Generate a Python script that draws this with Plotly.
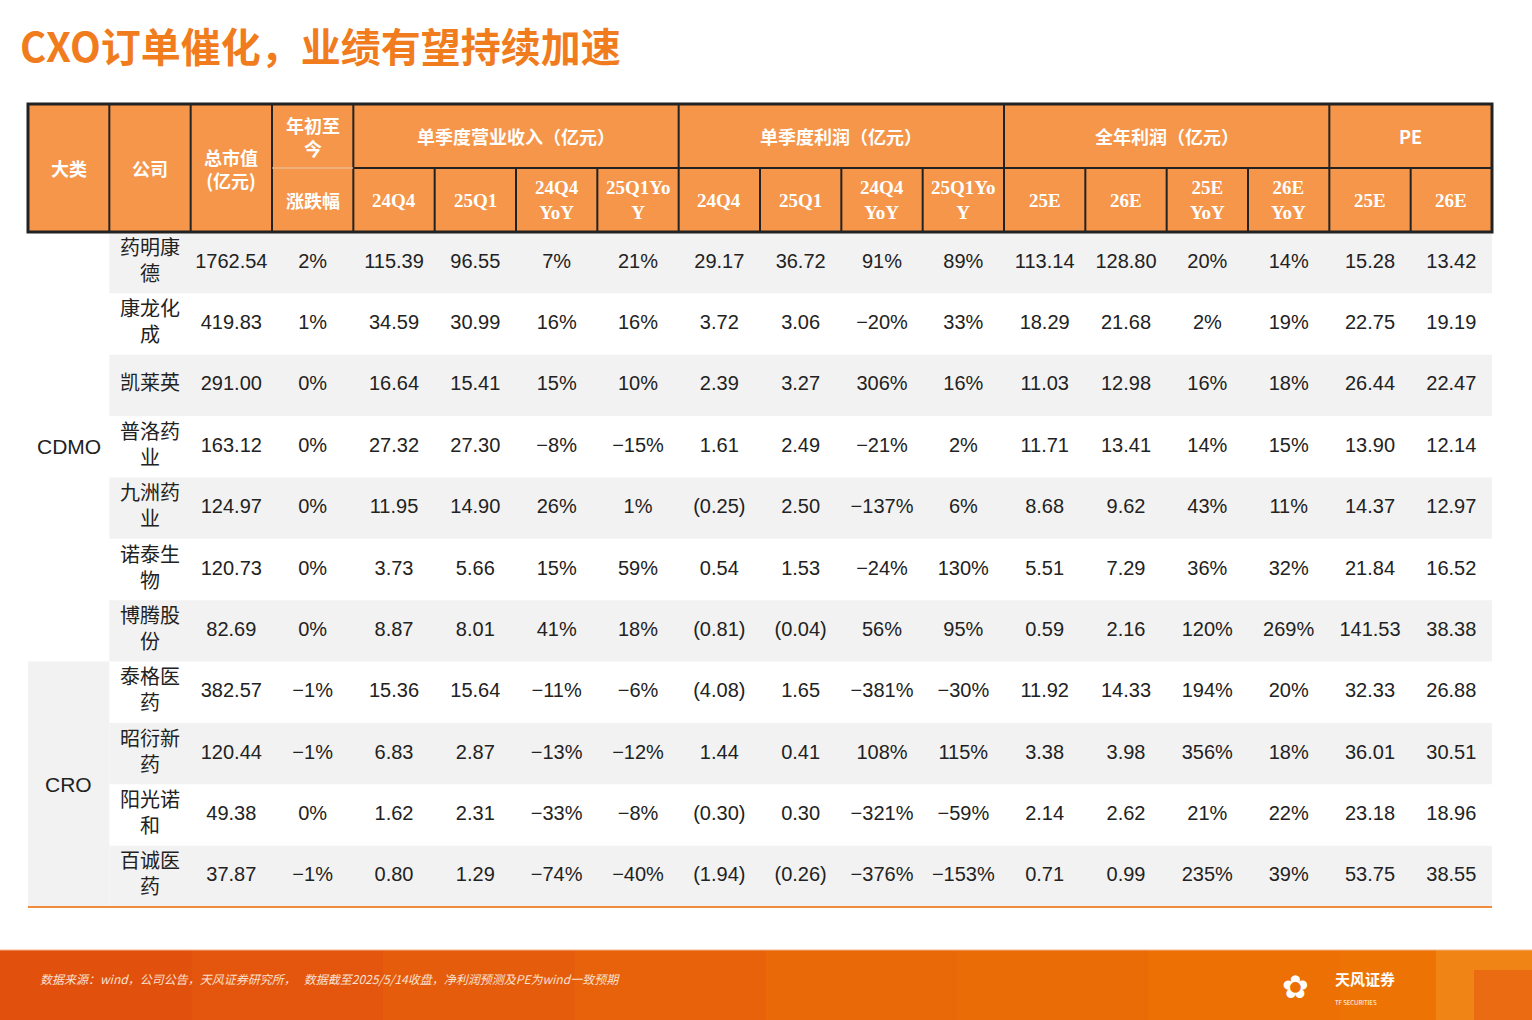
import plotly.graph_objects as go

# -- Datos ---------------------------------------------------------------------
categorias = ["CDMO", "CRO"]
n_por_categoria = [7, 4]
empresas = ["药明康<br>德", "康龙化<br>成", "凯莱英", "普洛药<br>业", "九洲药<br>业", "诺泰生<br>物",
            "博腾股<br>份", "泰格医<br>药", "昭衍新<br>药", "阳光诺<br>和", "百诚医<br>药"]
市值 = ["1762.54", "419.83", "291.00", "163.12", "124.97", "120.73", "82.69", "382.57", "120.44", "49.38", "37.87"]
涨跌幅 = ["2%", "1%", "0%", "0%", "0%", "0%", "0%", "−1%", "−1%", "0%", "−1%"]
营收_24q4 = ["115.39", "34.59", "16.64", "27.32", "11.95", "3.73", "8.87", "15.36", "6.83", "1.62", "0.80"]
营收_25q1 = ["96.55", "30.99", "15.41", "27.30", "14.90", "5.66", "8.01", "15.64", "2.87", "2.31", "1.29"]
营收_24q4_yoy = ["7%", "16%", "15%", "−8%", "26%", "15%", "41%", "−11%", "−13%", "−33%", "−74%"]
营收_25q1_yoy = ["21%", "16%", "10%", "−15%", "1%", "59%", "18%", "−6%", "−12%", "−8%", "−40%"]
利润_24q4 = ["29.17", "3.72", "2.39", "1.61", "(0.25)", "0.54", "(0.81)", "(4.08)", "1.44", "(0.30)", "(1.94)"]
利润_25q1 = ["36.72", "3.06", "3.27", "2.49", "2.50", "1.53", "(0.04)", "1.65", "0.41", "0.30", "(0.26)"]
利润_24q4_yoy = ["91%", "−20%", "306%", "−21%", "−137%", "−24%", "56%", "−381%", "108%", "−321%", "−376%"]
利润_25q1_yoy = ["89%", "33%", "16%", "2%", "6%", "130%", "95%", "−30%", "115%", "−59%", "−153%"]
利润_25e = ["113.14", "18.29", "11.03", "11.71", "8.68", "5.51", "0.59", "11.92", "3.38", "2.14", "0.71"]
利润_26e = ["128.80", "21.68", "12.98", "13.41", "9.62", "7.29", "2.16", "14.33", "3.98", "2.62", "0.99"]
利润_25e_yoy = ["20%", "2%", "16%", "14%", "43%", "36%", "120%", "194%", "356%", "21%", "235%"]
利润_26e_yoy = ["14%", "19%", "18%", "15%", "11%", "32%", "269%", "20%", "18%", "22%", "39%"]
pe_25e = ["15.28", "22.75", "26.44", "13.90", "14.37", "21.84", "141.53", "32.33", "36.01", "23.18", "53.75"]
pe_26e = ["13.42", "19.19", "22.47", "12.14", "12.97", "16.52", "38.38", "26.88", "30.51", "18.96", "38.55"]

grupos = ["单季度营业收入（亿元）", "单季度利润（亿元）", "全年利润（亿元）", "PE"]
subcols = ["24Q4", "25Q1", "24Q4<br>YoY", "25Q1Yo<br>Y", "24Q4", "25Q1", "24Q4<br>YoY", "25Q1Yo<br>Y",
           "25E", "26E", "25E<br>YoY", "26E<br>YoY", "25E", "26E"]

columnas = [empresas, 市值, 涨跌幅, 营收_24q4, 营收_25q1, 营收_24q4_yoy, 营收_25q1_yoy,
            利润_24q4, 利润_25q1, 利润_24q4_yoy, 利润_25q1_yoy, 利润_25e, 利润_26e,
            利润_25e_yoy, 利润_26e_yoy, pe_25e, pe_26e]

# -- Geometria -----------------------------------------------------------------
N_COL = 18
N_FIL = len(empresas)
UX = (1492 - 28) / N_COL
UY = (907 - 232) / N_FIL
H_TOP = -(232 - 104) / UY
H_MID = -(232 - 168) / UY
NARANJA = "#F5964A"
GRIS = "#F2F2F2"
CJK = "Noto Sans CJK SC"
PIE = 70 / 1020

fig = go.Figure()
shapes = []

# franjas grises
for j in range(N_FIL):
    if j % 2 == 0:
        shapes.append(dict(type="rect", x0=1, x1=N_COL, y0=j, y1=j + 1, fillcolor=GRIS, line_width=0, layer="below"))
shapes.append(dict(type="rect", x0=0, x1=1, y0=7, y1=N_FIL, fillcolor=GRIS, line_width=0, layer="below"))

# cabecera
shapes.append(dict(type="rect", x0=0, x1=N_COL, y0=H_TOP, y1=0, fillcolor=NARANJA, line_width=0))
for i in range(1, N_COL):
    full = i <= 4 or i in (8, 12, 16)
    shapes.append(dict(type="line", x0=i, x1=i, y0=H_TOP if full else H_MID, y1=0,
                       line=dict(color="#222", width=2)))
shapes.append(dict(type="line", x0=4, x1=N_COL, y0=H_MID, y1=H_MID, line=dict(color="#222", width=2)))
shapes.append(dict(type="line", x0=3, x1=4, y0=H_MID, y1=H_MID, line=dict(color="#E8C9A8", width=1)))
shapes.append(dict(type="rect", x0=0, x1=N_COL, y0=H_TOP, y1=0, line=dict(color="#222", width=3)))
shapes.append(dict(type="line", x0=0, x1=N_COL, y0=N_FIL, y1=N_FIL, line=dict(color="#F08A3C", width=2)))

# pie con degradado aproximado
tonos = ["#E2500E", "#E4560D", "#E55C0C", "#E7620A", "#E96808", "#EA6C06", "#EC7004", "#ED7404"]
paso = 1 / len(tonos)
for k, c in enumerate(tonos):
    shapes.append(dict(type="rect", xref="paper", yref="paper", x0=k * paso, x1=(k + 1) * paso + 0.001,
                       y0=0, y1=PIE, fillcolor=c, line_width=0))
shapes.append(dict(type="rect", xref="paper", yref="paper", x0=1436 / 1532, x1=1, y0=0, y1=PIE,
                   fillcolor="#F08A1C", line_width=0, opacity=0.8))
shapes.append(dict(type="rect", xref="paper", yref="paper", x0=1474 / 1532, x1=1, y0=0, y1=50 / 1020,
                   fillcolor="#E85A10", line_width=0, opacity=0.6))
shapes.append(dict(type="line", xref="paper", yref="paper", x0=0, x1=1, y0=PIE, y1=PIE,
                   line=dict(color="#F4B38A", width=1)))

anns = []
def cab(x, y, t, size=18):
    anns.append(dict(x=x, y=y, text=t, showarrow=False, font=dict(family=CJK, size=size, color="white")))

yc = (H_TOP + 0) / 2
cab(0.5, yc, "<b>大类</b>")
cab(1.5, yc, "<b>公司</b>")
cab(2.5, yc, "<b>总市值<br>(亿元)</b>")
cab(3.5, (H_TOP + H_MID) / 2, "<b>年初至<br>今</b>")
cab(3.5, H_MID / 2, "<b>涨跌幅</b>")
for g, (a, b) in zip(grupos, [(4, 8), (8, 12), (12, 16), (16, 18)]):
    cab((a + b) / 2, (H_TOP + H_MID) / 2, "<b>" + g + "</b>")
for k, s in enumerate(subcols):
    anns.append(dict(x=4.5 + k, y=H_MID / 2, text="<b>" + s + "</b>", showarrow=False,
                     font=dict(family="Liberation Serif", size=19, color="white")))

# categorias
inicio = 0
for c, n in zip(categorias, n_por_categoria):
    anns.append(dict(x=0.5, y=inicio + n / 2, text=c, showarrow=False,
                     font=dict(family="Liberation Sans", size=21, color="#222")))
    inicio += n

# celdas del cuerpo
xs, ys, ts = [], [], []
for i, col in enumerate(columnas):
    for j, v in enumerate(col):
        xs.append(i + 1.5)
        ys.append(j + 0.5)
        ts.append(v)
fig.add_trace(go.Scatter(x=xs, y=ys, text=ts, mode="text", hoverinfo="skip",
                         textfont=dict(family="Liberation Sans, " + CJK, size=20, color="#222")))

# titulo y pie
anns.append(dict(xref="paper", yref="paper", x=18 / 1532, y=1 - 45 / 1020, xanchor="left", yanchor="middle",
                 text="<b>CXO订单催化，业绩有望持续加速</b>", showarrow=False,
                 font=dict(family=CJK, size=40, color="#F07C1E")))
anns.append(dict(xref="paper", yref="paper", x=38 / 1532, y=42 / 1020, xanchor="left", yanchor="middle",
                 text="<i>数据来源：wind，公司公告，天风证券研究所，   数据截至2025/5/14收盘，净利润预测及PE为wind一致预期</i>",
                 showarrow=False, font=dict(family=CJK, size=12, color="#F8E0D0")))
anns.append(dict(xref="paper", yref="paper", x=1333 / 1532, y=33 / 1020, xanchor="left", yanchor="middle",
                 text="<b>天风证券</b><br><span style='font-size:6px'>TF SECURITIES</span>",
                 showarrow=False, align="left", font=dict(family=CJK, size=15, color="white")))
anns.append(dict(xref="paper", yref="paper", x=1311 / 1532, y=35 / 1020, yanchor="middle",
                 text="✿", showarrow=False, font=dict(size=32, color="white")))

fig.update_layout(
    width=1532, height=1020, margin=dict(l=0, r=0, t=0, b=0),
    paper_bgcolor="white", plot_bgcolor="white", showlegend=False,
    xaxis=dict(range=[-28 / UX, (1532 - 28) / UX], visible=False, fixedrange=True),
    yaxis=dict(range=[(1020 - 232) / UY, -232 / UY], visible=False, fixedrange=True),
    shapes=shapes, annotations=anns,
)
fig.write_html("out.html", config={"displayModeBar": False},
               post_script="document.body.style.margin='0';")
